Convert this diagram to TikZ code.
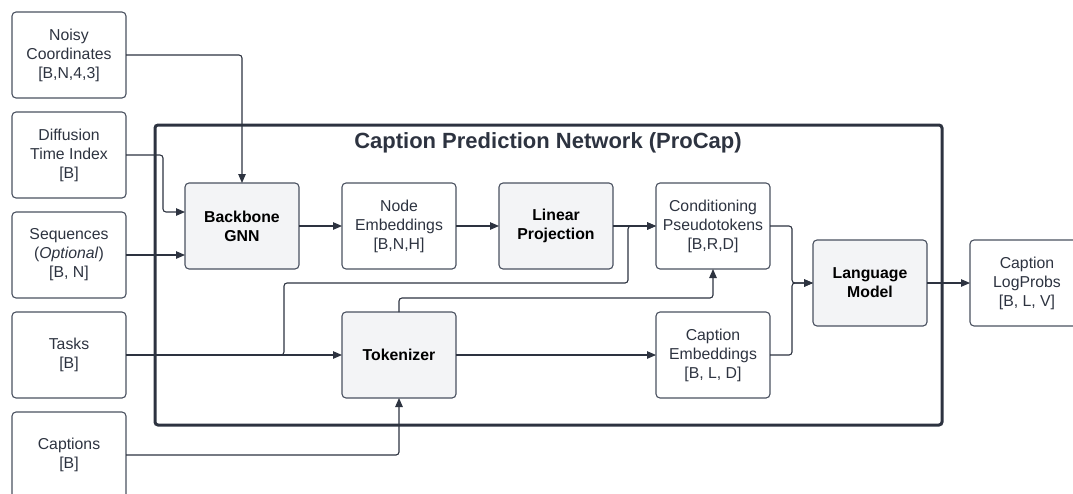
\documentclass[tikz,border=0pt]{standalone}
\usepackage{fontspec}
\setmainfont{Liberation Sans}
\usepackage{xcolor}
\usepackage{tikz}
\usetikzlibrary{arrows.meta, positioning, calc}

\definecolor{inkgray}{HTML}{2D3340}
\definecolor{boxgray}{HTML}{4A5160}
\definecolor{fillgray}{HTML}{F3F4F6}

\begin{document}
\begin{tikzpicture}[
  x=1pt, y=-1pt,
  node distance = 14pt and 43pt,
  io/.style    = {rectangle, rounded corners=4pt, draw=boxgray, line width=1.1pt, text=inkgray,
                  minimum width=114pt, minimum height=86pt, outer sep=0pt, align=center,
                  font=\fontsize{15.8}{19}\selectfont},
  op/.style    = {io, fill=fillgray, text=black, font=\fontsize{15.8}{19}\selectfont\bfseries},
  arr/.style   = {-{Triangle[length=9pt,width=7.5pt]}, line width=1.1pt, draw=inkgray, rounded corners=3pt},
  frame/.style = {line width=3pt, draw=inkgray, rounded corners=3pt}
]
\useasboundingbox (0,0) rectangle (1073,493);

% Inputs
\node[io] (noisy) at (69,55) {Noisy\\Coordinates\\{}[B,N,4,3]};
\node[io, below=of noisy]     (diffusion) {Diffusion\\Time Index\\{}[B]};
\node[io, below=of diffusion] (sequences) {Sequences\\(\textit{Optional})\\{}[B, N]};
\node[io, below=of sequences] (tasks)     {Tasks\\{}[B]};
\node[io, below=of tasks]     (captions)  {Captions\\{}[B]};

% Network
\draw[frame] (155,125) rectangle (942,425);
\node[font=\fontsize{22}{26}\selectfont\bfseries, text=inkgray] (title) at (548,143) {Caption Prediction Network (ProCap)};

\node[op] (backbone) at (242,226) {Backbone\\GNN};
\node[io, right=of backbone] (nodeemb)  {Node\\Embeddings\\{}[B,N,H]};
\node[op, right=of nodeemb]  (linproj)  {Linear\\Projection};
\node[io, right=of linproj]  (condtok)  {Conditioning\\Pseudotokens\\{}[B,R,D]};
\node[op, below=43pt of nodeemb] (tokenizer) {Tokenizer};
\node[io, below=43pt of condtok] (capemb)    {Caption\\Embeddings\\{}[B, L, D]};
\node[op] (lm) at (870,283) {Language\\Model};
\node[io, right=of lm] (logprobs) {Caption\\LogProbs\\{}[B, L, V]};

% Inputs -> backbone
\draw[arr] (noisy.east) -| (backbone.north);
\draw[arr] (diffusion.east) -- ++(37,0) |- ($(backbone.west)+(0,-14)$);
\draw[arr] (sequences.east) -- (sequences.east -| backbone.west);

% Main chain
\draw[arr] (backbone) -- (nodeemb);
\draw[arr] (nodeemb) -- (linproj);
\draw[arr] (linproj) -- (condtok);

% Tasks and captions
\draw[arr] (tasks.east) -- (tokenizer.west);
\draw[arr] (tasks.east) -- ++(158,0) |- (628,283) |- (condtok.west);
\draw[arr] (captions.east) -| (tokenizer.south);
\draw[arr] (tokenizer.north) -- ++(0,-14) -| (condtok.south);
\draw[arr] (tokenizer) -- (capemb);

% Into the language model
\draw[arr] (condtok.east) -- ++(22,0) |- (lm.west);
\draw[arr] (capemb.east) -- ++(22,0) |- (lm.west);
\draw[arr] (lm) -- (logprobs);

\end{tikzpicture}
\end{document}
